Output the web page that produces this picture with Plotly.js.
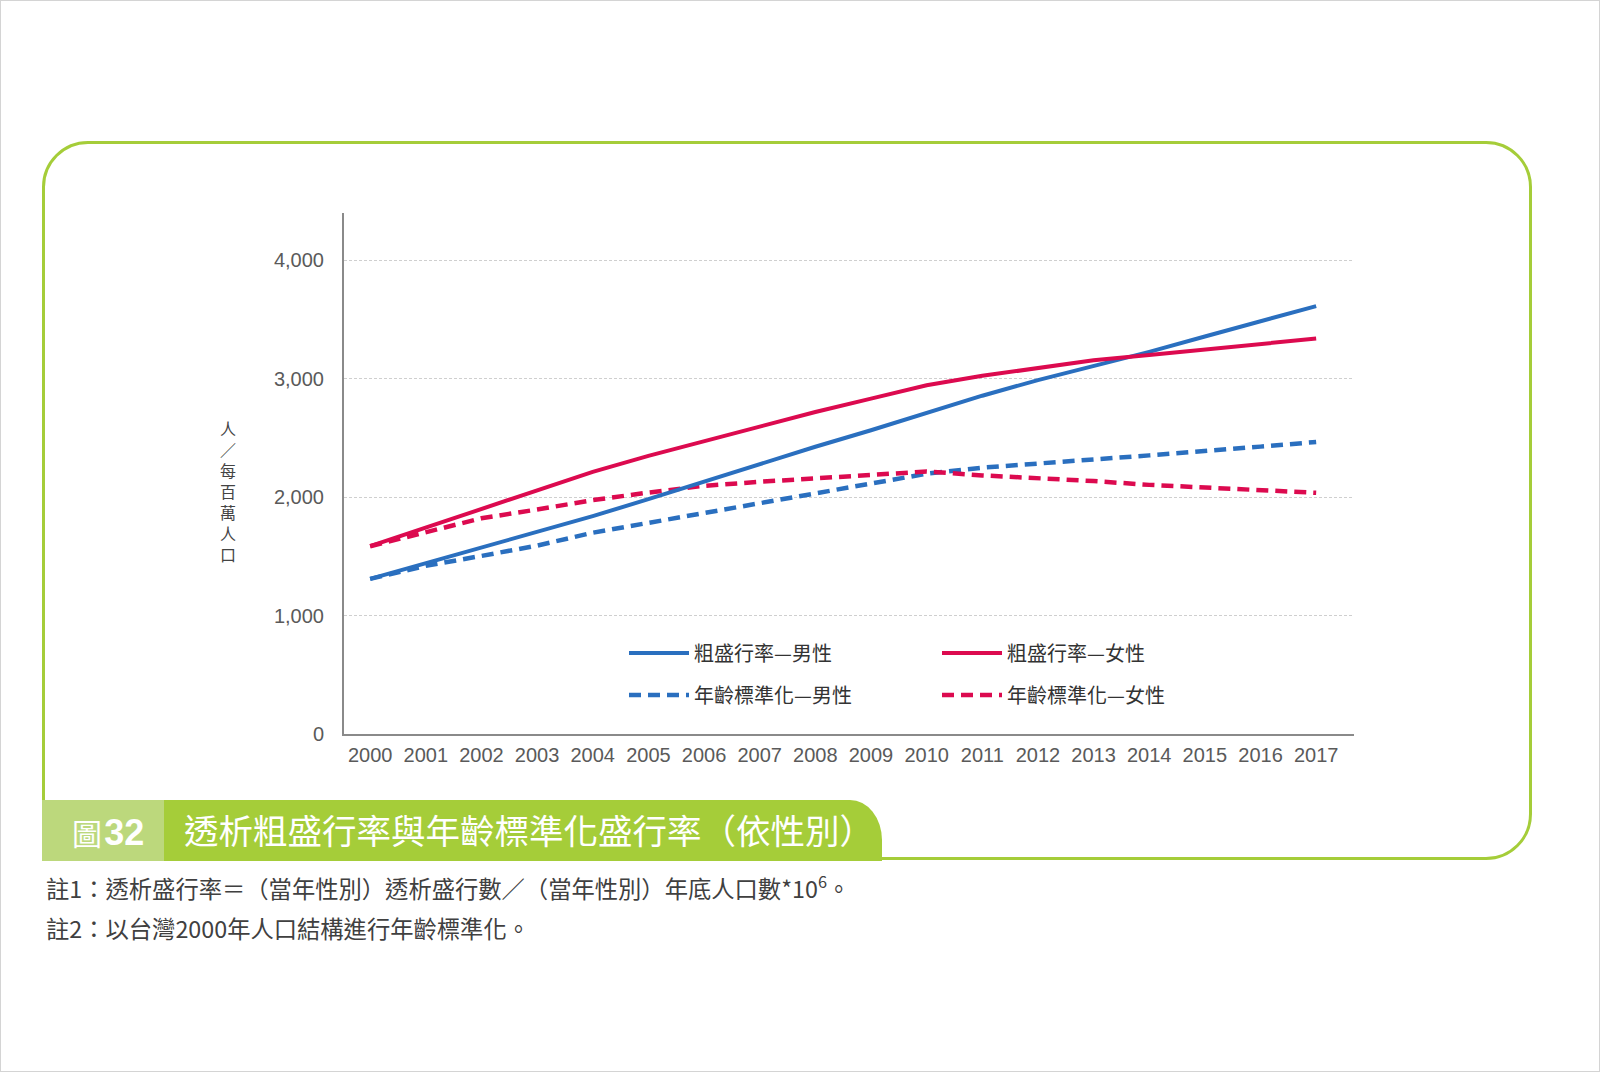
<!DOCTYPE html>
<html>
<head>
<meta charset="utf-8">
<script src="https://cdn.plot.ly/plotly-3.0.1.min.js"></script>
<style>
  html, body { margin: 0; padding: 0; background: #fff; }
  #page { position: relative; width: 1600px; height: 1072px; background: #fff; overflow: hidden; box-sizing: border-box; border: 1px solid #d4d4d4; }
  #frame { position: absolute; left: 41px; top: 140px; width: 1490px; height: 719px; border: 3px solid #a5cd39; border-radius: 46px; box-sizing: border-box; }
  #banner { position: absolute; left: 41px; top: 799px; width: 840px; height: 61px; background: #a5cd39; border-top-right-radius: 32px 40px; }
  #bannerLight { position: absolute; left: 41px; top: 799px; width: 122px; height: 61px; background: #bcd87c; }
  #chart { position: absolute; left: 0; top: 0; width: 1600px; height: 1072px; }
</style>
</head>
<body>
<div id="page">
  <div id="frame"></div>
  <div id="banner"></div>
  <div id="bannerLight"></div>
  <div id="chart"></div>
</div>
<script>
// ---- data ----
const years = [2000, 2001, 2002, 2003, 2004, 2005, 2006, 2007, 2008, 2009, 2010, 2011, 2012, 2013, 2014, 2015, 2016, 2017];
const crudeMale   = [1310, 1443, 1576, 1708, 1840, 1983, 2131, 2278, 2426, 2565, 2712, 2857, 2989, 3110, 3227, 3357, 3485, 3614];
const crudeFemale = [1586, 1742, 1899, 2054, 2214, 2349, 2474, 2596, 2719, 2832, 2945, 3025, 3094, 3156, 3200, 3246, 3294, 3340];
const stdMale     = [1310, 1420, 1504, 1591, 1700, 1783, 1873, 1958, 2034, 2116, 2198, 2249, 2288, 2319, 2353, 2387, 2427, 2466];
const stdFemale   = [1586, 1700, 1822, 1896, 1975, 2039, 2096, 2130, 2161, 2195, 2217, 2184, 2161, 2136, 2104, 2082, 2054, 2037];
const seriesNames = ['粗盛行率—男性', '粗盛行率—女性', '年齡標準化—男性', '年齡標準化—女性'];
const yTickVals = [0, 1000, 2000, 3000, 4000];
const yTickText = ['0', '1,000', '2,000', '3,000', '4,000'];
const yTitleChars = ['人', '／', '每', '百', '萬', '人', '口'];
const figureLabel = '圖';
const figureNumber = '32';
const chartTitle = '透析粗盛行率與年齡標準化盛行率（依性別）';
const note1 = '註1：透析盛行率＝（當年性別）透析盛行數／（當年性別）年底人口數*10<sup>6</sup>。';
const note2 = '註2：以台灣2000年人口結構進行年齡標準化。';

// ---- styles ----
const BLUE = '#2a6fbf';
const RED = '#dc0a4f';
const CJK = '"Noto Sans CJK TC", "Noto Sans CJK SC", sans-serif';
const LAT = '"Liberation Sans", Arial, sans-serif';

// pixel helpers for plot area (l=343, r=1353, t=212, b=733)
const PL = 343, PR = 1353, PT = 212, PB = 733;
const px = v => (v - PL) / (PR - PL);
const py = v => (PB - v) / (PB - PT);

const traces = [
  { x: years, y: stdMale, name: seriesNames[2], mode: 'lines', legend: 'legend', legendgroup: 'g2', legendrank: 2,
    line: { color: BLUE, width: 4.5, dash: '12px,7px' } },
  { x: years, y: stdFemale, name: seriesNames[3], mode: 'lines', legend: 'legend2', legendgroup: 'g4', legendrank: 2,
    line: { color: RED, width: 4.5, dash: '12px,7px' } },
  { x: years, y: crudeMale, name: seriesNames[0], mode: 'lines', legend: 'legend', legendgroup: 'g1', legendrank: 1,
    line: { color: BLUE, width: 4 } },
  { x: years, y: crudeFemale, name: seriesNames[1], mode: 'lines', legend: 'legend2', legendgroup: 'g3', legendrank: 1,
    line: { color: RED, width: 4 } }
];

const legendCommon = {
  orientation: 'v', traceorder: 'grouped', tracegroupgap: 13, itemwidth: 60,
  bgcolor: 'rgba(0,0,0,0)', borderwidth: 0,
  font: { family: CJK, size: 20, color: '#333' },
  yanchor: 'middle', xanchor: 'left', y: py(673)
};

const yTitleAnnotations = yTitleChars.map((ch, i) => ({
  text: ch, xref: 'paper', yref: 'paper', x: px(227), y: py(427 + i * 21),
  xanchor: 'center', yanchor: 'middle', showarrow: false,
  font: { family: CJK, size: 16, color: '#444' }
}));

const layout = {
  width: 1600, height: 1072,
  margin: { l: PL, r: 1600 - PR, t: PT, b: 1072 - PB, pad: 0 },
  paper_bgcolor: 'rgba(0,0,0,0)', plot_bgcolor: 'rgba(0,0,0,0)',
  showlegend: true,
  hovermode: false,
  title: {
    text: chartTitle,
    x: 183 / 1600, xref: 'container', xanchor: 'left',
    y: 1 - 831 / 1072, yref: 'container', yanchor: 'middle',
    font: { family: CJK, size: 34.5, color: '#ffffff' }
  },
  xaxis: {
    range: [1999.53, 2017.68], tickmode: 'array', tickvals: years, ticktext: years.map(String),
    showgrid: false, zeroline: false, showline: true, linecolor: '#8a8a8a', linewidth: 2,
    ticks: '', ticklabelstandoff: 2,
    tickfont: { family: LAT, size: 20, color: '#5a5a5a' }
  },
  yaxis: {
    range: [0, 4400], tickmode: 'array', tickvals: yTickVals, ticktext: yTickText,
    showgrid: true, gridcolor: '#cfcfcf', gridwidth: 1, griddash: '3px,2px',
    zeroline: false, showline: true, linecolor: '#8a8a8a', linewidth: 2,
    ticks: '', ticklabelstandoff: 14,
    tickfont: { family: LAT, size: 20, color: '#5a5a5a' }
  },
  legend: Object.assign({}, legendCommon, { x: px(623) }),
  legend2: Object.assign({}, legendCommon, { x: px(936) }),
  annotations: yTitleAnnotations.concat([
    { text: '<span style="font-size:30px">' + figureLabel + '</span><span style="font-size:8px"> </span><b>' + figureNumber + '</b>',
      xref: 'paper', yref: 'paper', x: px(107), y: py(831), xanchor: 'center', yanchor: 'middle',
      showarrow: false, font: { family: LAT + ',' + CJK, size: 36, color: '#ffffff' } },
    { text: note1, xref: 'paper', yref: 'paper', x: px(43), y: py(886), xanchor: 'left', yanchor: 'middle',
      showarrow: false, align: 'left', font: { family: CJK, size: 23.3, color: '#404040' } },
    { text: note2, xref: 'paper', yref: 'paper', x: px(43), y: py(927), xanchor: 'left', yanchor: 'middle',
      showarrow: false, align: 'left', font: { family: CJK, size: 23.3, color: '#404040' } }
  ])
};

Plotly.newPlot('chart', traces, layout, { displayModeBar: false, staticPlot: true });
</script>
</body>
</html>
